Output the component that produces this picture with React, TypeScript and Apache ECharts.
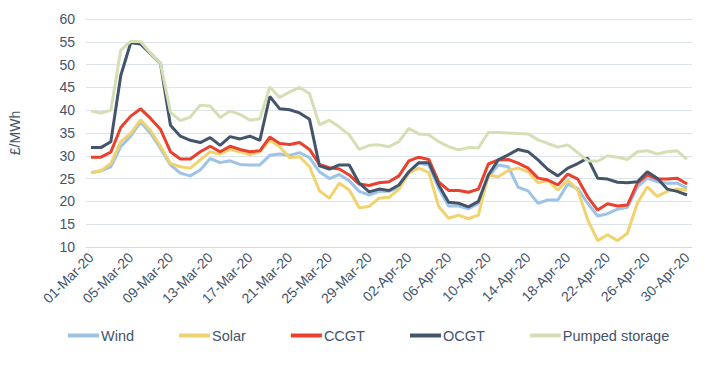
import React, { useEffect, useRef } from "react";
import * as echarts from "echarts";

const months = ["Mar", "Apr"];
const daysInMonth = [31, 30];
const dates: string[] = [];
months.forEach((m, mi) => {
  for (let d = 1; d <= daysInMonth[mi]; d++) {
    dates.push(`${d < 10 ? "0" + d : d}-${m}-20`);
  }
});

const wind = [26.3, 26.7, 27.6, 32, 34.3, 37.4, 34.9, 31.6, 28, 26.2, 25.6, 26.9, 29.4, 28.5, 28.9, 28.1, 28, 28, 30.1, 30.4, 30.1, 30.7, 29.6, 26.5, 25, 25.9, 24.5, 22.2, 21.4, 22.2, 22.2, 23.1, 26.5, 28.4, 28, 22.9, 19, 19, 18.4, 19.5, 25.4, 28, 27.6, 23.1, 22.3, 19.6, 20.3, 20.3, 23.8, 22.8, 19.6, 16.8, 17.3, 18.3, 18.7, 23.1, 25.1, 24.3, 24, 24, 22.9];
const solar = [26.3, 26.7, 28.3, 33.1, 34.9, 37.9, 35.5, 32.1, 28.3, 27.6, 27.3, 29.1, 30.9, 30.4, 31.4, 30.9, 30.2, 30.9, 33.4, 32, 29.6, 29.8, 27.6, 22.3, 20.7, 24, 22.5, 18.6, 18.9, 20.7, 20.9, 22.7, 26.2, 27.3, 26.3, 18.9, 16.3, 17, 16.2, 17, 25.8, 25.4, 26.8, 27.3, 26.5, 24.1, 24.6, 22.5, 24.7, 22.5, 16, 11.4, 12.7, 11.4, 13, 19.6, 23.2, 21.1, 22.2, 22.7, 22.5];
const ccgt = [29.7, 29.7, 30.8, 36.2, 38.7, 40.3, 38.2, 35.8, 30.9, 29.3, 29.3, 30.9, 32.1, 30.9, 32.1, 31.4, 30.9, 31.1, 34.1, 32.7, 32.5, 32.9, 31.4, 28.1, 27.4, 27.1, 25.8, 23.8, 23.5, 24.1, 24.3, 25.6, 28.9, 29.7, 29.2, 24.3, 22.4, 22.4, 22, 22.7, 28.2, 29.1, 29.2, 28.4, 27.3, 25.1, 24.7, 23.6, 26, 24.9, 21, 18.1, 19.5, 19, 19.2, 24, 25.8, 24.9, 24.9, 25.1, 23.8];
const ocgt = [31.8, 31.8, 33.1, 47.6, 54.8, 54.5, 52.4, 50.2, 36.7, 34.3, 33.4, 32.9, 34, 32.3, 34.2, 33.7, 34.3, 33.4, 43, 40.3, 40.1, 39.4, 38, 27.8, 27.1, 28, 28, 24, 22.1, 22.7, 22.4, 23.6, 26.5, 28.5, 28.5, 23.6, 19.8, 19.6, 18.8, 20, 25.8, 29.1, 30.2, 31.4, 30.9, 29.1, 27, 25.6, 27.3, 28.3, 29.5, 25.1, 24.9, 24.2, 24.1, 24.3, 26.5, 25.1, 22.7, 22.2, 21.4];
const pumped = [39.8, 39.4, 40, 53.2, 55.1, 55, 52.5, 50.2, 39.6, 37.7, 38.5, 41.1, 40.9, 38.4, 39.8, 39.1, 37.8, 38.1, 45.1, 42.8, 44, 45, 43.6, 36.8, 37.8, 36.3, 34.6, 31.4, 32.3, 32.4, 32, 33.1, 36, 34.8, 34.6, 33.1, 32, 31.3, 31.8, 31.7, 35.1, 35.1, 35, 34.9, 34.8, 33.5, 32.7, 31.9, 32.4, 30.7, 28.9, 28.8, 30, 29.7, 29.2, 30.9, 31.1, 30.4, 30.9, 31.1, 29.2];

const seriesNames = ["Wind", "Solar", "CCGT", "OCGT", "Pumped storage"];
const seriesData = [wind, solar, ccgt, ocgt, pumped];
const seriesColors = ["#9DC3E6", "#F0D26E", "#E9412E", "#44546A", "#D5DFB5"];

export default function App() {
  const ref = useRef<HTMLDivElement>(null);
  useEffect(() => {
    if (!ref.current) return;
    const chart = echarts.init(ref.current, undefined, { renderer: "svg" });
    const textColor = "#44546A";
    chart.setOption({
      animation: false,
      textStyle: { fontFamily: "Liberation Sans, Arial, sans-serif" },
      grid: { left: 83, right: 8, top: 19, bottom: 120, containLabel: false },
      legend: {
        top: 328,
        left: 68,
        padding: 0,
        icon: "rect",
        itemWidth: 31,
        itemHeight: 4,
        itemGap: 45,
        textStyle: { fontSize: 14.5, color: textColor, padding: [0, 0, 0, -3] },
        data: seriesNames,
      },
      xAxis: {
        type: "category",
        data: dates,
        boundaryGap: true,
        axisLine: { lineStyle: { color: "#D9D9D9", width: 1 } },
        axisTick: { show: false },
        axisLabel: {
          interval: 3,
          rotate: 45,
          fontSize: 14,
          color: textColor,
          margin: 8,
        },
      },
      yAxis: {
        type: "value",
        min: 10,
        max: 60,
        interval: 5,
        name: "£/MWh",
        nameLocation: "middle",
        nameGap: 64,
        nameTextStyle: { fontSize: 14, color: textColor },
        axisLine: { show: false },
        axisTick: { show: false },
        axisLabel: { fontSize: 14, color: textColor, margin: 11 },
        splitLine: { lineStyle: { color: "#DDE3EA", width: 1 } },
      },
      series: seriesNames.map((name, i) => ({
        name,
        type: "line",
        data: seriesData[i],
        symbol: "none",
        lineStyle: { width: 3, color: seriesColors[i] },
        itemStyle: { color: seriesColors[i] },
      })),
    });
    return () => chart.dispose();
  }, []);
  return <div ref={ref} style={{ width: 700, height: 367, marginLeft: -8, marginTop: -8 }} />;
}
